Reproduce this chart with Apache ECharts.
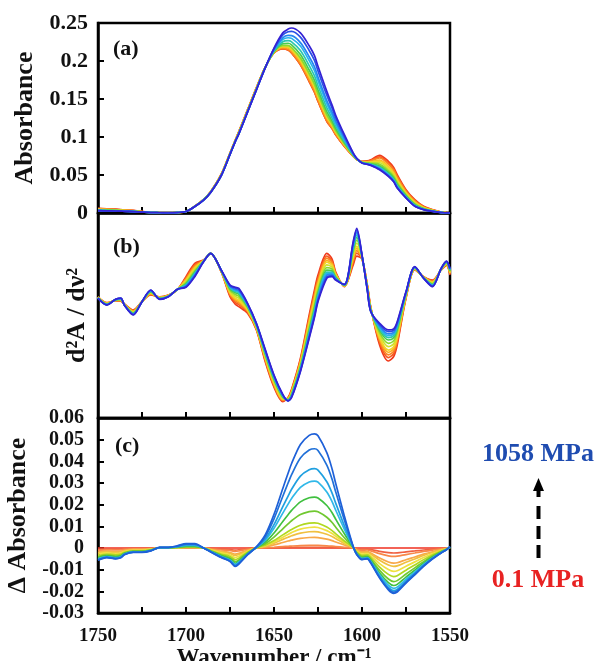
<!DOCTYPE html>
<html><head><meta charset="utf-8">
<script src="https://cdn.jsdelivr.net/npm/echarts@6/dist/echarts.min.js"></script>
<style>html,body{margin:0;padding:0;background:#fff}#c{width:596px;height:661px}</style>
</head><body><div id="c"></div>
<script>
// ---- data ----
const wavenumbers = [1750,1745,1740,1737,1735,1730,1725,1720,1715,1710,1705,1700,1695,1690,1686,1680,1675,1672,1670,1665,1660,1655,1650,1645,1642,1640,1635,1630,1627,1625,1620,1617,1615,1610,1605,1603,1600,1597,1595,1590,1585,1582,1580,1575,1570,1565,1560,1555,1552,1550];
const xTickLabels = [1750,1700,1650,1600,1550];

// (a) absorbance, 0.1 MPa and 1058 MPa
const absLow  = [0.006,0.0055,0.005,0.0045,0.004,0.0035,0.002,0.0008,0.0003,0.0,0.0005,0.002,0.009,0.018,0.028,0.051,0.079,0.096,0.107,0.136,0.165,0.192,0.2105,0.216,0.2145,0.2105,0.195,0.173,0.159,0.147,0.1207,0.111,0.103,0.0877,0.0746,0.0705,0.068,0.0685,0.070,0.0759,0.068,0.060,0.0504,0.0307,0.0175,0.0088,0.0044,0.0013,0.0004,0.0];
const absHigh = [0.003,0.0028,0.0026,0.0024,0.0022,0.0018,0.0012,0.0006,0.0003,0.0,0.0005,0.002,0.0085,0.017,0.027,0.049,0.077,0.094,0.104,0.133,0.162,0.191,0.217,0.237,0.242,0.2434,0.237,0.220,0.207,0.193,0.160,0.142,0.129,0.103,0.079,0.072,0.0658,0.064,0.0627,0.057,0.0482,0.041,0.0329,0.0197,0.0088,0.0044,0.0022,0.0005,0.0002,0.0];

// (b) second derivative (arbitrary units)
const d2Low  = [0.183,0.125,0.144,0.140,0.112,0.054,0.135,0.200,0.183,0.200,0.249,0.379,0.509,0.541,0.607,0.427,0.183,0.110,0.086,0.021,-0.141,-0.45,-0.70,-0.84,-0.80,-0.72,-0.42,0.005,0.25,0.395,0.607,0.55,0.427,0.281,0.493,0.58,0.55,0.30,0.08,-0.288,-0.444,-0.40,-0.288,0.168,0.444,0.379,0.346,0.444,0.49,0.395];
const d2High = [0.168,0.102,0.158,0.170,0.100,0.005,0.135,0.249,0.158,0.183,0.255,0.275,0.379,0.525,0.607,0.444,0.298,0.275,0.265,0.119,-0.076,-0.33,-0.58,-0.77,-0.834,-0.80,-0.548,-0.222,-0.02,0.135,0.363,0.379,0.346,0.304,0.72,0.85,0.59,0.25,0.037,-0.076,-0.141,-0.13,-0.06,0.232,0.476,0.363,0.281,0.46,0.53,0.46];

// (c) difference spectra
const diffLow  = [0,0,0,0,0,0,0,0,0,0,0,0,0,0,0,0,0,0,0,0,0,0,0,0,0,0,0,0,0,0,0,0,0,0,0,0,0,0,0,0,0,0,0,0,0,0,0,0,0,0];
const diffHigh = [-0.0056,-0.0044,-0.0050,-0.0045,-0.0031,-0.0020,-0.0020,-0.0013,0.0003,0.0003,0.0010,0.0020,0.0020,0.0000,-0.0018,-0.0044,-0.0062,-0.0085,-0.0074,-0.0031,0.0005,0.0060,0.0155,0.0275,0.0345,0.0390,0.0478,0.0520,0.0527,0.0518,0.0440,0.0365,0.0300,0.0147,0.0007,-0.003,-0.0054,-0.0050,-0.0070,-0.0139,-0.0193,-0.0209,-0.0203,-0.0162,-0.0124,-0.0085,-0.0051,-0.0023,-0.0008,0.0007];

// levels of each pressure curve (0.1 MPa -> 1058 MPa)
const peakLevels = [0.0,0.0003,0.0012,0.0049,0.0076,0.0096,0.0116,0.017,0.0235,0.0309,0.0366,0.0458,0.0527]; // ΔA at 1627
const dipLevels  = [0.0,-0.0023,-0.0039,-0.007,-0.0085,-0.0108,-0.0132,-0.0155,-0.0173,-0.0186,-0.0197,-0.0204,-0.0209]; // ΔA at 1582
const d2Levels   = [-0.444,-0.411,-0.385,-0.359,-0.337,-0.304,-0.271,-0.239,-0.216,-0.197,-0.180,-0.158,-0.141]; // d2A at 1585

// ---- styles ----
const paletteAB = ['#f03a1c','#f65a20','#fb8420','#fcae20','#f4d428','#cfe22a','#8cd830','#48cc50','#2cc6b0','#28b4ec','#2686f0','#2850e6','#3422d4'];
const paletteC  = ['#f03020','#f06040','#f88848','#f8a848','#f0c040','#f0e040','#b0d820','#70c830','#40c040','#30b8e8','#20a0e0','#2070d8','#1e60d8'];
const FONT = "'Liberation Serif','Times New Roman',serif";

function shares(levels){const a=levels[0],b=levels[levels.length-1];return levels.map(v=>(v-a)/(b-a));}
const peakShare=shares(peakLevels), dipShare=shares(dipLevels), d2Share=shares(d2Levels);
function mix(low,high,k,split){
  return wavenumbers.map((w,j)=>{const d=high[j]-low[j];const s=split?(d>=0?peakShare[k]:dipShare[k]):d2Share[k];return [w,low[j]+s*d];});
}

const grids=[{left:98,top:23,width:352,height:190},{left:98,top:213,width:352,height:205},{left:98,top:418,width:352,height:195}];
function xAx(i){
  return {gridIndex:i,type:'value',min:1550,max:1750,interval:25,inverse:true,
    axisLine:{show:true,onZero:false,lineStyle:{color:'#000',width:2.5}},
    axisTick:{show:true,inside:true,length:6,lineStyle:{color:'#000',width:2}},
    splitLine:{show:false},
    axisLabel:{show:i===2,margin:14,showMinLabel:true,showMaxLabel:true,color:'#111',fontFamily:FONT,fontWeight:'bold',fontSize:19,
      formatter:v=>xTickLabels.indexOf(v)>=0?String(v):''},
    name:i===2?'Wavenumber / cm⁻¹':'',nameLocation:'middle',nameGap:30,
    nameTextStyle:{color:'#111',fontFamily:FONT,fontWeight:'bold',fontSize:23,verticalAlign:'top'}};
}
const nameStyle={color:'#111',fontFamily:FONT,fontWeight:'bold',fontSize:26};
const yAxes=[
 {gridIndex:0,type:'value',min:0,max:0.25,interval:0.05,
  axisLine:{show:true,lineStyle:{color:'#000',width:2.5}},axisTick:{inside:true,length:6,lineStyle:{color:'#000',width:2}},splitLine:{show:false},
  axisLabel:{margin:10,color:'#111',fontFamily:FONT,fontWeight:'bold',fontSize:22},
  name:'Absorbance',nameLocation:'middle',nameRotate:90,nameGap:58,nameTextStyle:nameStyle},
 {gridIndex:1,type:'value',min:-1,max:1,
  axisLine:{show:true,lineStyle:{color:'#000',width:2.5}},axisTick:{show:false},axisLabel:{show:false},splitLine:{show:false},
  name:'d²A / dν²',nameLocation:'middle',nameRotate:90,nameGap:8,nameTextStyle:nameStyle},
 {gridIndex:2,type:'value',min:-0.03,max:0.06,interval:0.01,
  axisLine:{show:true,lineStyle:{color:'#000',width:2.5}},axisTick:{inside:true,length:6,lineStyle:{color:'#000',width:2}},splitLine:{show:false},
  axisLabel:{margin:14,color:'#111',fontFamily:FONT,fontWeight:'bold',fontSize:20,formatter:v=>String(Math.round(v*100)/100)},
  name:'Δ Absorbance',nameLocation:'middle',nameRotate:90,nameGap:62,nameTextStyle:nameStyle}
];

const series=[];
for(let k=0;k<peakLevels.length;k++){
  series.push({type:'line',xAxisIndex:0,yAxisIndex:0,data:mix(absLow,absHigh,k,true),showSymbol:false,smooth:0.3,lineStyle:{width:1.7,color:paletteAB[k]},z:2+k});
  series.push({type:'line',xAxisIndex:1,yAxisIndex:1,data:mix(d2Low,d2High,k,false),showSymbol:false,smooth:0.3,lineStyle:{width:1.7,color:paletteAB[k]},z:2+k});
  series.push({type:'line',xAxisIndex:2,yAxisIndex:2,data:mix(diffLow,diffHigh,k,true),showSymbol:false,smooth:0.3,lineStyle:{width:1.7,color:paletteC[k]},z:2+k});
}

const labelFont='bold 22px '+FONT;
const graphic=[
 {type:'text',left:113,top:38,style:{text:'(a)',font:labelFont,fill:'#111'}},
 {type:'text',left:113,top:236,style:{text:'(b)',font:labelFont,fill:'#111'}},
 {type:'text',left:115,top:435,style:{text:'(c)',font:labelFont,fill:'#111'}},
 {type:'text',x:538,y:454,style:{text:'1058 MPa',font:'bold 26px '+FONT,fill:'#1f4cb0',textAlign:'center',textVerticalAlign:'middle'}},
 {type:'text',x:538,y:580,style:{text:'0.1 MPa',font:'bold 26px '+FONT,fill:'#e82222',textAlign:'center',textVerticalAlign:'middle'}},
 {type:'polygon',shape:{points:[[538.5,478],[533,491],[544,491]]},style:{fill:'#000'}},
 {type:'rect',shape:{x:536.5,y:489,width:4,height:8},style:{fill:'#000'}},
 {type:'rect',shape:{x:536.5,y:506,width:4,height:13},style:{fill:'#000'}},
 {type:'rect',shape:{x:536.5,y:526,width:4,height:13},style:{fill:'#000'}},
 {type:'rect',shape:{x:536.5,y:545,width:4,height:13},style:{fill:'#000'}}
];

const chart=echarts.init(document.getElementById('c'),null,{renderer:'canvas'});
chart.setOption({
  animation:false,backgroundColor:'#fff',
  grid:grids.map(g=>Object.assign({show:true,borderColor:'#000',borderWidth:2.5,backgroundColor:'transparent',outerBoundsMode:'none',containLabel:false},g)),
  xAxis:[xAx(0),xAx(1),xAx(2)],
  yAxis:yAxes,
  series:series,
  graphic:graphic
});
</script></body></html>
